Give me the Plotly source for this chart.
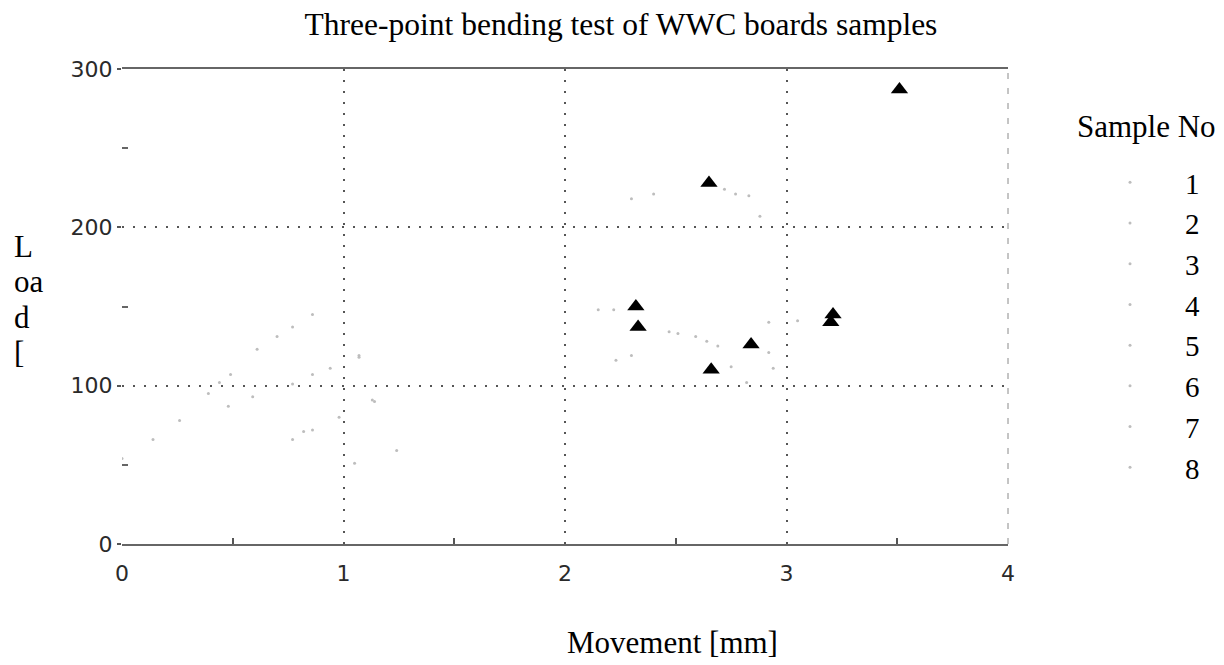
import plotly.graph_objects as go

# ---- data -------------------------------------------------------------
sample_names = ["1", "2", "3", "4", "5", "6", "7", "8"]

# peak (failure) point of each sample: movement [mm], load [N]
peak_movement = [2.65, 2.32, 2.33, 2.84, 2.66, 3.21, 3.20, 3.51]
peak_load = [228, 150, 137, 126, 110, 145, 140, 287]

# sparse plotter readings along each load-movement curve
s1_x = [0.00, 0.14, 0.26, 0.39, 0.49, 0.61, 0.70, 0.77, 0.86, 2.15, 2.22]
s1_y = [54, 66, 78, 95, 107, 123, 131, 137, 145, 148, 148]
s2_x = [0.44, 0.77, 0.86, 0.94, 1.07]
s2_y = [102, 101, 107, 111, 118]
s3_x = [0.77, 0.82, 0.86, 0.98, 1.14]
s3_y = [66, 71, 72, 80, 90]
s4_x = [2.47, 2.51, 2.59, 2.64, 2.69, 2.75, 2.82]
s4_y = [134, 133, 131, 128, 125, 112, 102]
s5_x = [2.30, 2.40, 2.72, 2.77, 2.83, 2.88]
s5_y = [218, 221, 224, 221, 220, 207]
s6_x = [2.23, 2.30]
s6_y = [116, 119]
s7_x = [2.92, 2.94, 2.92, 3.05]
s7_y = [121, 111, 140, 141]
s8_x = [0.48, 0.59, 1.05, 1.07, 1.13, 1.24]
s8_y = [87, 93, 51, 119, 91, 59]

curves_x = [s1_x, s2_x, s3_x, s4_x, s5_x, s6_x, s7_x, s8_x]
curves_y = [s1_y, s2_y, s3_y, s4_y, s5_y, s6_y, s7_y, s8_y]

x_ticks = [0, 1, 2, 3, 4]
y_ticks = [0, 100, 200, 300]
y_label_lines = ["L", "oa", "d", "["]

# ---- figure -----------------------------------------------------------
W, H = 1224, 665
ML, MR, MT, MB = 122, 216, 69, 121
PW, PH = W - ML - MR, H - MT - MB

SERIF = "Liberation Serif, Times New Roman, serif"
TICKFONT = dict(family="DejaVu Sans", size=22, color="#2a2a2a")

fig = go.Figure()

for name, cx, cy in zip(sample_names, curves_x, curves_y):
    fig.add_trace(go.Scatter(
        x=cx, y=cy, mode="markers", name=name,
        marker=dict(size=3, color="#bdbdbd"),
    ))

fig.add_trace(go.Scatter(
    x=peak_movement, y=peak_load, mode="markers", showlegend=False,
    marker=dict(symbol="triangle-up", size=15, color="black"),
))

# right-hand frame edge (broken, faint)
fig.add_shape(type="line", xref="x domain", yref="y domain",
              x0=1, x1=1, y0=0, y1=1,
              line=dict(color="#8a8a8a", width=1, dash="6px,9px"))

fig.update_xaxes(
    range=[0, 4], tickvals=x_ticks, ticktext=[str(v) for v in x_ticks],
    showgrid=True, gridcolor="#555", gridwidth=1.5, griddash="2px,9px",
    showline=True, mirror=True, linecolor="#666", linewidth=2,
    ticks="", zeroline=False,
    minor=dict(tickvals=[0.5, 1.5, 2.5, 3.5], ticks="inside", ticklen=6,
               tickcolor="#555", tickwidth=1.5, showgrid=False),
    tickfont=TICKFONT,
    ticklabelstandoff=9,
)
fig.update_yaxes(
    range=[0, 300], tickvals=y_ticks, ticktext=[str(v) for v in y_ticks],
    showgrid=True, gridcolor="#555", gridwidth=1.5, griddash="2px,9px",
    showline=False, zeroline=False,
    ticks="outside", ticklen=4, tickwidth=2, tickcolor="#555",
    minor=dict(tickvals=[50, 150, 250], ticks="inside", ticklen=6,
               tickcolor="#666", tickwidth=1.5, showgrid=False),
    tickfont=TICKFONT,
)

annotations = [
    dict(text="Movement [mm]", xref="paper", yref="paper",
         x=(672 - ML) / PW, y=(H - MB - 642) / PH,
         xanchor="center", yanchor="middle", showarrow=False,
         font=dict(family=SERIF, size=31, color="black")),
    dict(text="Sample No", xref="paper", yref="paper",
         x=(1075 - ML) / PW, y=(H - MB - 126) / PH,
         xanchor="left", yanchor="middle", showarrow=False,
         font=dict(family=SERIF, size=31, color="black")),
]
for i, line in enumerate(y_label_lines):
    cy = 246 + i * 35.5
    annotations.append(dict(
        text=line, xref="paper", yref="paper",
        x=(12 - ML) / PW, y=(H - MB - cy) / PH,
        xanchor="left", yanchor="middle", showarrow=False,
        font=dict(family=SERIF, size=31, color="black")))

fig.update_layout(
    width=W, height=H, autosize=False,
    margin=dict(l=ML, r=MR, t=MT, b=MB),
    paper_bgcolor="white", plot_bgcolor="white",
    title=dict(text="Three-point bending test of WWC boards samples",
               x=621 / W, xref="container", xanchor="center",
               y=1 - 24 / H, yref="container", yanchor="middle",
               font=dict(family=SERIF, size=31.5, color="black")),
    legend=dict(
        font=dict(family=SERIF, size=29, color="black"),
        xref="container", yref="container",
        x=1075 / W, xanchor="left", y=1 - 157 / H, yanchor="top",
        itemwidth=100, bgcolor="rgba(0,0,0,0)", maxheight=640,
    ),
    annotations=annotations,
    showlegend=True,
)

fig.write_html("out.html")
